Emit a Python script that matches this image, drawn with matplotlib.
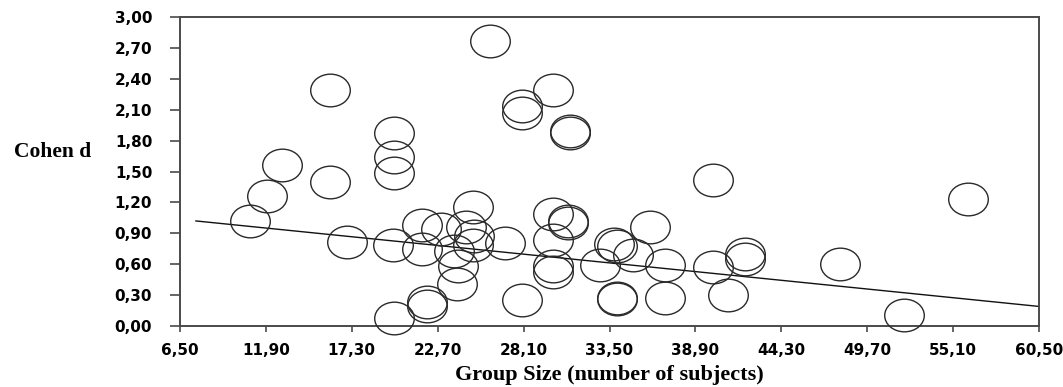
import matplotlib
matplotlib.use("Agg")
from matplotlib import pyplot as plt
from matplotlib.path import Path
from matplotlib.transforms import Affine2D
import numpy as np

# group size (number of subjects) per study
group_size = [10.9, 11.95, 12.9, 15.95, 15.9, 16.98, 19.95, 19.95, 19.95, 19.9,
              19.95, 21.7, 21.7, 22.0, 22.0, 22.9, 23.7, 24.0, 23.9, 24.5,
              24.95, 25.0, 24.9, 26.9, 25.99, 27.98, 27.98, 27.98, 29.97, 30.99,
              30.99, 29.97, 30.9, 30.9, 29.97, 29.97, 29.97, 32.9, 33.8, 33.95,
              33.95, 33.95, 35.0, 36.05, 37.0, 37.0, 40.0, 40.0, 40.97, 42.0,
              42.0, 48.0, 52.0, 56.05]
# effect size per study
cohen_d = [1.02, 1.26, 1.56, 2.29, 1.40, 0.82, 1.87, 1.64, 1.49, 0.79,
           0.08, 0.98, 0.75, 0.23, 0.19, 0.94, 0.73, 0.58, 0.41, 0.96,
           1.16, 0.87, 0.79, 0.81, 2.77, 2.14, 2.07, 0.25, 2.29, 1.89,
           1.87, 1.09, 1.02, 1.00, 0.835, 0.58, 0.52, 0.59, 0.80, 0.78,
           0.27, 0.26, 0.69, 0.96, 0.59, 0.27, 1.42, 0.57, 0.30, 0.70,
           0.65, 0.60, 0.11, 1.23]

# trend line end points
trend_x = [7.5, 60.5]
trend_y = [1.02, 0.19]

x_ticks = [6.5, 11.9, 17.3, 22.7, 28.1, 33.5, 38.9, 44.3, 49.7, 55.1, 60.5]
y_ticks = [0.0, 0.3, 0.6, 0.9, 1.2, 1.5, 1.8, 2.1, 2.4, 2.7, 3.0]


def comma(v):
    return f"{v:.2f}".replace(".", ",")


fig = plt.figure(figsize=(10.63, 3.87), dpi=100)
ax = fig.add_axes([180 / 1063, 1 - 326 / 387, 859 / 1063, 309 / 387])

# slightly flattened open circle, as in the original
circ = Path.unit_circle()
ellipse = Affine2D().scale(1.0, 0.825).transform_path(circ)

ax.plot(group_size, cohen_d, linestyle="none", marker=ellipse, markersize=28.5,
        markerfacecolor="none", markeredgecolor="#2a2a2a", markeredgewidth=1.0,
        clip_on=False, zorder=3)
ax.plot(trend_x, trend_y, color="#111111", linewidth=1.0, zorder=2)

ax.set_xlim(6.5, 60.5)
ax.set_ylim(0, 3)
ax.set_xticks(x_ticks)
ax.set_yticks(y_ticks)
ax.set_xticklabels([comma(v) for v in x_ticks])
ax.set_yticklabels([comma(v) for v in y_ticks])

for s in ax.spines.values():
    s.set_color("#4a4a4a")
    s.set_linewidth(1.4)

ax.tick_params(axis="x", direction="out", length=4.5, width=1.2, color="#4a4a4a",
               pad=8)
ax.tick_params(axis="y", direction="out", length=7, width=1.2, color="#4a4a4a",
               pad=13)
for lab in ax.get_xticklabels() + ax.get_yticklabels():
    lab.set_fontfamily("DejaVu Sans")
    lab.set_fontweight("bold")
    lab.set_fontsize(11)

ax.set_xlabel("Group Size (number of subjects)", fontfamily="Liberation Serif",
              fontweight="bold", fontsize=16)
ax.xaxis.set_label_coords(0.5, -0.158)
ax.xaxis.label.set_va("center")
ax.set_ylabel("Cohen d", fontfamily="Liberation Serif", fontweight="bold",
              fontsize=15.5, rotation=0)
ax.yaxis.set_label_coords(-0.148, 0.563)
ax.yaxis.label.set_va("center")
ax.yaxis.label.set_ha("center")

fig.savefig("out.png", dpi=100)
